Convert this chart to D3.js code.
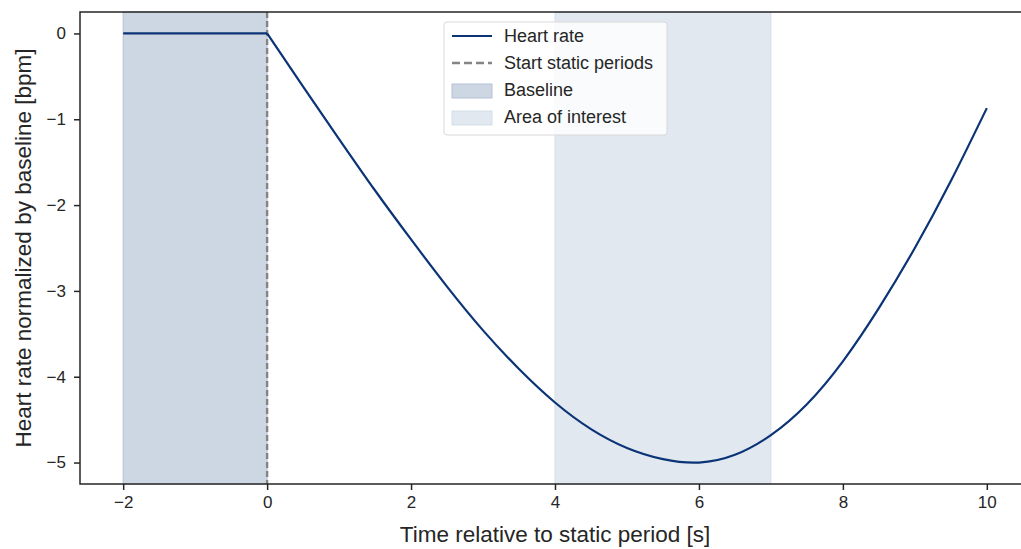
<!DOCTYPE html>
<html>
<head>
<meta charset="utf-8">
<script src="https://cdn.jsdelivr.net/npm/d3@7"></script>
<style>
  body { margin: 0; background: #fff; }
  text { font-family: "Liberation Sans", Arial, sans-serif; fill: #262626; }
</style>
</head>
<body>
<div id="chart"></div>
<script>
// Heart rate data
const baselineTime = [-2, 0];
const baselineRate = [0, 0];
const responseTime = [0, 0.5, 1, 1.5, 2, 2.5, 3, 3.5, 4, 4.5, 5, 5.5, 6, 6.5, 7, 7.5, 8, 8.5, 9, 9.5, 10];
const responseRate = [0, -0.62, -1.23, -1.83, -2.4, -2.95, -3.46, -3.91, -4.3, -4.61, -4.83, -4.96, -5.0, -4.91, -4.68, -4.32, -3.82, -3.2, -2.5, -1.72, -0.87];
const staticStart = 0;
const baselineSpan = [-2, 0];
const interestSpan = [4, 7];
const xTicks = [-2, 0, 2, 4, 6, 8, 10];
const yTicks = [0, -1, -2, -3, -4, -5];
const legendItems = ["Heart rate", "Start static periods", "Baseline", "Area of interest"];

const width = 1021, height = 549;
const margins = { top: 12, right: -9, bottom: 65, left: 80 };
const w = width - margins.left - margins.right,
      h = height - margins.top - margins.bottom;

const svg = d3.select("#chart")
  .append("svg")
  .attr("width", width)
  .attr("height", height);

const chart = svg.append("g")
  .attr("transform", `translate(${margins.left},${margins.top})`);

const x = d3.scaleLinear().domain([-2.6, 10.6]).range([0, w]);
const y = d3.scaleLinear().domain([-5.25, 0.25]).range([h, 0]);

const lineColor = "#0b3476";
const baseFill = "#cdd6e3";
const interestFill = "#e1e8f0";

// shaded spans
chart.append("rect")
  .attr("x", x(baselineSpan[0]))
  .attr("y", 0)
  .attr("width", x(baselineSpan[1]) - x(baselineSpan[0]))
  .attr("height", h)
  .attr("fill", baseFill)
  .attr("stroke", "#b4c1d4")
  .attr("stroke-width", 1);

chart.append("rect")
  .attr("x", x(interestSpan[0]))
  .attr("y", 0)
  .attr("width", x(interestSpan[1]) - x(interestSpan[0]))
  .attr("height", h)
  .attr("fill", interestFill)
  .attr("stroke", "#d6dfea")
  .attr("stroke-width", 1);

// dashed start line
chart.append("line")
  .attr("x1", x(staticStart))
  .attr("x2", x(staticStart))
  .attr("y1", 0)
  .attr("y2", h)
  .attr("stroke", "#858585")
  .attr("stroke-width", 2.4)
  .attr("stroke-dasharray", "6,3");

// heart rate line
const flat = baselineTime.map((t, i) => ({ t, v: baselineRate[i] }));
const resp = responseTime.map((t, i) => ({ t, v: responseRate[i] }));

chart.append("path")
  .datum(flat)
  .attr("fill", "none")
  .attr("stroke", lineColor)
  .attr("stroke-width", 2.2)
  .attr("d", d3.line().x(d => x(d.t)).y(d => y(d.v)));

chart.append("path")
  .datum(resp)
  .attr("fill", "none")
  .attr("stroke", lineColor)
  .attr("stroke-width", 2.2)
  .attr("stroke-linejoin", "round")
  .attr("d", d3.line().x(d => x(d.t)).y(d => y(d.v)).curve(d3.curveNatural));

// axes
const fmt = d => d < 0 ? "\u2212" + Math.abs(d) : String(d);

const xAxis = chart.append("g")
  .attr("transform", `translate(0,${h})`)
  .call(d3.axisBottom(x).tickValues(xTicks).tickFormat(fmt).tickSize(6).tickPadding(6));

const yAxis = chart.append("g")
  .call(d3.axisLeft(y).tickValues(yTicks).tickFormat(fmt).tickSize(6).tickPadding(8));

[xAxis, yAxis].forEach(a => {
  a.select(".domain").remove();
  a.selectAll(".tick line").attr("stroke", "#262626").attr("stroke-width", 1.5);
  a.selectAll(".tick text")
    .attr("font-size", 17)
    .attr("font-family", "'Liberation Sans', Arial, sans-serif")
    .attr("fill", "#262626");
});

// frame
chart.append("rect")
  .attr("x", 0)
  .attr("y", 0)
  .attr("width", w)
  .attr("height", h)
  .attr("fill", "none")
  .attr("stroke", "#262626")
  .attr("stroke-width", 1.5);

// axis labels
chart.append("text")
  .attr("x", x(4))
  .attr("y", h + 58)
  .attr("text-anchor", "middle")
  .attr("font-size", 22.5)
  .text("Time relative to static period [s]");

chart.append("text")
  .attr("transform", "rotate(-90)")
  .attr("x", -(y(-2.5)))
  .attr("y", -49)
  .attr("text-anchor", "middle")
  .attr("font-size", 22.5)
  .text("Heart rate normalized by baseline [bpm]");

// legend
const legend = svg.append("g")
  .attr("transform", "translate(444,22)");

legend.append("rect")
  .attr("width", 223)
  .attr("height", 113)
  .attr("rx", 3)
  .attr("fill", "#ffffff")
  .attr("fill-opacity", 0.8)
  .attr("stroke", "#d9d9d9")
  .attr("stroke-width", 1);

legendItems.forEach((label, i) => {
  const cy = 14 + i * 27;
  if (i === 0) {
    legend.append("line")
      .attr("x1", 8).attr("x2", 48).attr("y1", cy).attr("y2", cy)
      .attr("stroke", lineColor).attr("stroke-width", 2.2);
  } else if (i === 1) {
    legend.append("line")
      .attr("x1", 8).attr("x2", 48).attr("y1", cy).attr("y2", cy)
      .attr("stroke", "#858585").attr("stroke-width", 2.4)
      .attr("stroke-dasharray", "8,4");
  } else {
    legend.append("rect")
      .attr("x", 8).attr("y", cy - 6)
      .attr("width", 40).attr("height", 14)
      .attr("fill", i === 2 ? baseFill : interestFill)
      .attr("stroke", i === 2 ? "#b4c1d4" : "#d6dfea");
  }
  legend.append("text")
    .attr("x", 60)
    .attr("y", cy + 6)
    .attr("font-size", 18)
    .text(label);
});
</script>
</body>
</html>
